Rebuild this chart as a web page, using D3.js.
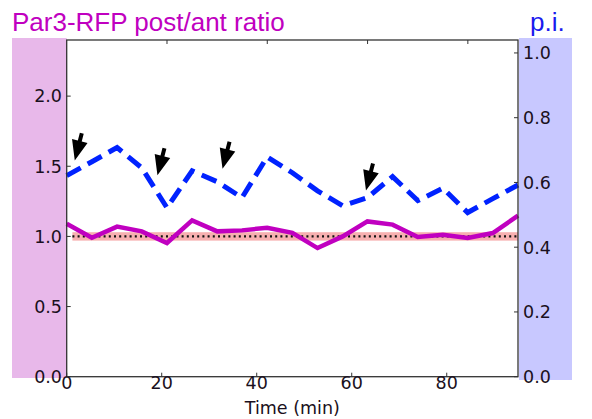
<!DOCTYPE html>
<html>
<head>
<meta charset="utf-8">
<script src="https://cdn.jsdelivr.net/npm/d3@7"></script>
<style>
  body { margin: 0; background: #fff; }
  text { font-family: "DejaVu Sans", sans-serif; }
</style>
</head>
<body>
<div id="chart"></div>
<script>
// data
var times = [0, 5.3, 10.6, 15.8, 21.1, 26.4, 31.7, 36.9, 42.2, 47.5, 52.8, 58.1, 63.3, 68.6, 73.9, 79.2, 84.4, 89.7, 95];
var ratio = [1.09, 0.99, 1.07, 1.036, 0.953, 1.114, 1.036, 1.043, 1.062, 1.026, 0.917, 1.0, 1.107, 1.084, 0.996, 1.012, 0.989, 1.024, 1.148];
var pi = [0.621, 0.664, 0.708, 0.645, 0.522, 0.636, 0.602, 0.553, 0.679, 0.630, 0.574, 0.528, 0.553, 0.618, 0.544, 0.582, 0.507, 0.550, 0.592];
// arrow tips [time, p.i.]
var arrows = [[1.7, 0.668], [19.1, 0.622], [32.8, 0.642], [63, 0.575]];
var xTicks = [0, 20, 40, 60, 80];
var leftTicks = [0, 0.5, 1.0, 1.5, 2.0];
var rightTicks = [0, 0.2, 0.4, 0.6, 0.8, 1.0];
var bandRange = [0.97, 1.03];
var bandTimes = [1.2, 95];

var width = 592, height = 419;
var pL = 66.7, pR = 518, pT = 40, pB = 376.7;

var x = d3.scaleLinear().domain([0, 95]).range([pL, pR]);
var xTop = d3.scaleLinear().domain([0, 90]).range([pL, pR]);
var yL = d3.scaleLinear().domain([0, 2.4]).range([pB, pT]);
var yR = d3.scaleLinear().domain([0, 1.04]).range([pB, pT]);

var svg = d3.select("#chart").append("svg")
    .attr("width", width)
    .attr("height", height);

// coloured side panels
svg.append("rect").attr("x", 12).attr("y", 38).attr("width", pL - 12).attr("height", 340).attr("fill", "#e8b8ea");
svg.append("rect").attr("x", pR + 1).attr("y", 38).attr("width", 53).attr("height", 342).attr("fill", "#c8c8ff");

// titles
svg.append("text").attr("x", 12).attr("y", 31)
    .style("font-family", "'Liberation Sans', Arial, sans-serif")
    .style("font-size", "26px").attr("fill", "#c000c0")
    .text("Par3-RFP post/ant ratio");
svg.append("text").attr("x", 530).attr("y", 31)
    .style("font-family", "'Liberation Sans', Arial, sans-serif")
    .style("font-size", "26px").attr("fill", "#1a1aee")
    .text("p.i.");

// reference band + dotted line at 1.0
svg.append("rect")
    .attr("x", x(bandTimes[0])).attr("width", x(bandTimes[1]) - x(bandTimes[0]))
    .attr("y", yL(bandRange[1])).attr("height", yL(bandRange[0]) - yL(bandRange[1]))
    .attr("fill", "#f7b0b0");
svg.append("line")
    .attr("x1", x(bandTimes[0])).attr("x2", x(bandTimes[1]))
    .attr("y1", yL(1)).attr("y2", yL(1))
    .attr("stroke", "#111").attr("stroke-width", 2.2)
    .attr("stroke-dasharray", "2,3.2");

// ratio line
var ratioLine = d3.line().x(function(d, i) { return x(times[i]); }).y(function(d) { return yL(d); });
svg.append("path").datum(ratio)
    .attr("d", ratioLine)
    .attr("fill", "none")
    .attr("stroke", "#c000c0")
    .attr("stroke-width", 4.5)
    .attr("stroke-linejoin", "miter");

// p.i. line
var piLine = d3.line().x(function(d, i) { return x(times[i]); }).y(function(d) { return yR(d); });
svg.append("path").datum(pi)
    .attr("d", piLine)
    .attr("fill", "none")
    .attr("stroke", "#0022ff")
    .attr("stroke-width", 5)
    .attr("stroke-dasharray", "16,8");

// arrows
svg.selectAll(".arrow").data(arrows).enter()
    .append("path")
    .attr("class", "arrow")
    .attr("transform", function(d) { return "translate(" + x(d[0]) + "," + yR(d[1]) + ") rotate(14.5)"; })
    .attr("d", "M0,0 L-8,-20 L-2,-20 L-2,-28 L2,-28 L2,-20 L8,-20 Z")
    .attr("fill", "#000");

// spines
svg.append("rect").attr("x", pL).attr("y", pT).attr("width", pR - pL).attr("height", pB - pT)
    .attr("fill", "none").attr("stroke", "#333").attr("stroke-width", 1.3);

var tickColor = "#333", labelColor = "#1a1020", fs = "17.5px";

// bottom axis
svg.selectAll(".xt").data(xTicks).enter().append("line")
    .attr("x1", function(d) { return x(d); }).attr("x2", function(d) { return x(d); })
    .attr("y1", pB).attr("y2", pB - 4).attr("stroke", tickColor).attr("stroke-width", 1);
svg.selectAll(".xl").data(xTicks).enter().append("text")
    .attr("x", function(d) { return x(d); }).attr("y", 389)
    .attr("text-anchor", "middle").style("font-size", fs).attr("fill", labelColor)
    .text(function(d) { return d; });
svg.append("text").attr("x", x(47.5)).attr("y", 414)
    .attr("text-anchor", "middle").style("font-size", fs).attr("fill", labelColor)
    .text("Time (min)");

// top ticks
svg.selectAll(".xtt").data(xTicks.slice(1)).enter().append("line")
    .attr("x1", function(d) { return xTop(d); }).attr("x2", function(d) { return xTop(d); })
    .attr("y1", pT).attr("y2", pT + 4).attr("stroke", tickColor).attr("stroke-width", 1);

// left axis
svg.selectAll(".lt").data(leftTicks).enter().append("line")
    .attr("x1", pL).attr("x2", pL + 4)
    .attr("y1", function(d) { return yL(d); }).attr("y2", function(d) { return yL(d); })
    .attr("stroke", tickColor).attr("stroke-width", 1);
svg.selectAll(".ll").data(leftTicks).enter().append("text")
    .attr("x", 62).attr("y", function(d) { return yL(d); })
    .attr("dy", "0.36em").attr("text-anchor", "end")
    .style("font-size", fs).attr("fill", labelColor)
    .text(function(d) { return d3.format(".1f")(d); });

// right axis
svg.selectAll(".rt").data(rightTicks).enter().append("line")
    .attr("x1", pR - 4).attr("x2", pR)
    .attr("y1", function(d) { return yR(d); }).attr("y2", function(d) { return yR(d); })
    .attr("stroke", tickColor).attr("stroke-width", 1);
svg.selectAll(".rl").data(rightTicks).enter().append("text")
    .attr("x", 523).attr("y", function(d) { return yR(d); })
    .attr("dy", "0.36em").attr("text-anchor", "start")
    .style("font-size", fs).attr("fill", labelColor)
    .text(function(d) { return d3.format(".1f")(d); });
</script>
</body>
</html>
